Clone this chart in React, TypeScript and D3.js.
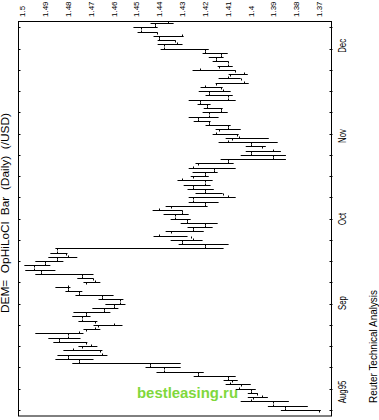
import React from "react";
import * as d3 from "d3";

// OHLC daily bars, USD/DEM, Aug 1995 .. Dec 1995 (earliest first)
const highs = [
  1.3867, 1.3924, 1.4043, 1.4012, 1.4012, 1.4065, 1.4109, 1.4118, 1.4249, 1.4412,
  1.4460, 1.4781, 1.4855, 1.4846, 1.4820, 1.4754, 1.4864, 1.4886, 1.4943, 1.4732,
  1.4688, 1.4754, 1.4781, 1.4776, 1.4693, 1.4636, 1.4666, 1.4767, 1.4811, 1.4855,
  1.4732, 1.4759, 1.4943, 1.4987, 1.4991, 1.4943, 1.4886, 1.4877, 1.4855, 1.4315,
  1.4350, 1.4425, 1.4372, 1.4276, 1.4306, 1.4350, 1.4381, 1.4429, 1.4372, 1.4271,
  1.4271, 1.4241, 1.4276, 1.4293, 1.4320, 1.4262, 1.4254, 1.4271, 1.4241, 1.4131,
  1.4043, 1.4021, 1.4021, 1.4140, 1.4109, 1.4166, 1.4153, 1.4197, 1.4249, 1.4271,
  1.4210, 1.4205, 1.4232, 1.4271, 1.4197, 1.4227, 1.4219, 1.4153, 1.4140, 1.4096,
  1.4254, 1.4144, 1.4166, 1.4183, 1.4210, 1.4394, 1.4407, 1.4407, 1.4425, 1.4495,
  1.4513, 1.4438,
];
const lows = [
  1.3692, 1.3749, 1.3832, 1.3924, 1.3968, 1.3977, 1.3999, 1.4056, 1.4065, 1.4205,
  1.4306, 1.4306, 1.4688, 1.4627, 1.4649, 1.4671, 1.4715, 1.4745, 1.4732, 1.4658,
  1.4561, 1.4671, 1.4701, 1.4614, 1.4579, 1.4548, 1.4557, 1.4600, 1.4737, 1.4789,
  1.4658, 1.4688, 1.4688, 1.4855, 1.4877, 1.4820, 1.4759, 1.4802, 1.4118, 1.4096,
  1.4210, 1.4276, 1.4205, 1.4166, 1.4144, 1.4262, 1.4271, 1.4298, 1.4188, 1.4140,
  1.4065, 1.4122, 1.4161, 1.4175, 1.4166, 1.4183, 1.4144, 1.4065, 1.4074, 1.3845,
  1.3845, 1.3867, 1.3933, 1.3881, 1.3920, 1.4052, 1.4043, 1.4087, 1.4175, 1.4140,
  1.4100, 1.4122, 1.4175, 1.4065, 1.4078, 1.4087, 1.4122, 1.4008, 1.4043, 1.4012,
  1.4065, 1.4078, 1.4096, 1.4118, 1.4100, 1.4183, 1.4298, 1.4328, 1.4293, 1.4407,
  1.4407, 1.4337,
];
const opens = [
  1.3700, 1.3850, 1.3900, 1.3990, 1.3970, 1.4000, 1.4040, 1.4080, 1.4100, 1.4230,
  1.4380, 1.4440, 1.4750, 1.4800, 1.4660, 1.4740, 1.4720, 1.4840, 1.4800, 1.4720,
  1.4670, 1.4680, 1.4740, 1.4720, 1.4640, 1.4600, 1.4570, 1.4650, 1.4750, 1.4800,
  1.4720, 1.4690, 1.4740, 1.4920, 1.4950, 1.4900, 1.4850, 1.4810, 1.4850, 1.4200,
  1.4300, 1.4260, 1.4350, 1.4250, 1.4200, 1.4280, 1.4330, 1.4300, 1.4350, 1.4200,
  1.4250, 1.4120, 1.4200, 1.4250, 1.4200, 1.4250, 1.4200, 1.4160, 1.4230, 1.4100,
  1.3900, 1.4000, 1.3950, 1.4000, 1.4080, 1.4060, 1.4140, 1.4100, 1.4180, 1.4230,
  1.4180, 1.4130, 1.4190, 1.4220, 1.4100, 1.4180, 1.4130, 1.4150, 1.4040, 1.4090,
  1.4070, 1.4140, 1.4100, 1.4150, 1.4130, 1.4200, 1.4380, 1.4330, 1.4400, 1.4410,
  1.4480, 1.4420,
];
const closes = [
  1.3850, 1.3900, 1.4000, 1.3950, 1.4000, 1.4050, 1.4090, 1.4100, 1.4230, 1.4380,
  1.4440, 1.4750, 1.4800, 1.4650, 1.4780, 1.4700, 1.4840, 1.4800, 1.4750, 1.4680,
  1.4600, 1.4740, 1.4720, 1.4640, 1.4600, 1.4570, 1.4650, 1.4750, 1.4800, 1.4800,
  1.4680, 1.4740, 1.4920, 1.4950, 1.4900, 1.4850, 1.4800, 1.4850, 1.4200, 1.4300,
  1.4250, 1.4400, 1.4250, 1.4200, 1.4280, 1.4330, 1.4300, 1.4400, 1.4200, 1.4250,
  1.4100, 1.4200, 1.4250, 1.4200, 1.4300, 1.4200, 1.4160, 1.4250, 1.4100, 1.3900,
  1.4000, 1.3900, 1.4000, 1.4100, 1.4050, 1.4150, 1.4100, 1.4180, 1.4230, 1.4180,
  1.4130, 1.4190, 1.4220, 1.4100, 1.4180, 1.4120, 1.4200, 1.4030, 1.4100, 1.4030,
  1.4220, 1.4100, 1.4150, 1.4130, 1.4200, 1.4380, 1.4320, 1.4400, 1.4300, 1.4480,
  1.4420, 1.4360,
];

const priceTicks = [1.5, 1.49, 1.48, 1.47, 1.46, 1.45, 1.44, 1.43, 1.42, 1.41, 1.4, 1.39, 1.38, 1.37];
const monthLabels = ["Aug95", "Sep", "Oct", "Nov", "Dec"];
const monthPos = [1.6, 23.5, 43.5, 62.8, 84];

const title = "DEM=  OpHiLoCl  Bar  (Daily)  (/USD)";
const footer = "Reuter Technical Analysis";
const watermark = "bestleasing.ru";

const W = 379;
const H = 420;
const FONT = "'Liberation Sans', Arial, Helvetica, sans-serif";

export default function App() {
  const n = highs.length;
  // chart is rotated 90deg counter-clockwise: price runs along x, time runs up
  const x = d3.scaleLinear().domain([1.5, 1.37]).range([22.3, 319]);
  const y = d3.scaleLinear().domain([0, n - 1]).range([410, 23]);
  const frame = { l: 18.5, r: 331.5, t: 21.5, b: 416 };
  const sy = (i: number) => Math.round(y(i)) + 0.5;

  const weekly = d3.range(0, n, 5);

  return (
    <svg
      width={W}
      height={H}
      style={{ position: "absolute", left: 0, top: 0, background: "#fff" }}
      fontFamily={FONT}
    >
      <rect x={0} y={0} width={W} height={H} fill="#fff" />
      {/* frame */}
      <rect
        x={frame.l}
        y={frame.t}
        width={frame.r - frame.l}
        height={frame.b - frame.t}
        fill="none"
        stroke="#000"
        strokeWidth={1}
      />
      {/* small weekly ticks on both time axes */}
      {weekly.map((i) => (
        <g key={"wk" + i}>
          <line x1={frame.l} x2={frame.l + 2} y1={sy(i)} y2={sy(i)} stroke="#000" strokeWidth={1} />
          <line x1={frame.r - 2} x2={frame.r + 1} y1={sy(i)} y2={sy(i)} stroke="#000" strokeWidth={1} />
        </g>
      ))}
      {/* price labels along the top */}
      {priceTicks.map((v) => (
        <text
          key={"p" + v}
          transform={`translate(${x(v) + 3},17) rotate(-90)`}
          fontSize={8}
          fill="#000"
          textAnchor="start"
        >
          {d3.format("")(v)}
        </text>
      ))}
      {/* month labels on the right */}
      {monthLabels.map((m, k) => (
        <text
          key={m}
          transform={`translate(346,${y(monthPos[k])}) rotate(-90) scale(0.78,1)`}
          fontSize={10}
          fill="#000"
          textAnchor="start"
        >
          {m}
        </text>
      ))}
      {/* title on the left */}
      <text
        transform="translate(9,313) rotate(-90)"
        fontSize={11}
        fill="#000"
        textLength={200}
        lengthAdjust="spacingAndGlyphs"
        style={{ whiteSpace: "pre" }}
      >
        {title}
      </text>
      {/* footer */}
      <text
        transform="translate(377,403) rotate(-90)"
        fontSize={11}
        fill="#000"
        textLength={113}
        lengthAdjust="spacingAndGlyphs"
      >
        {footer}
      </text>
      {/* OHLC bars */}
      {highs.map((h, i) => {
        const yy = sy(i);
        const xh = x(h);
        const xl = x(lows[i]);
        const xo = Math.round(x(opens[i])) + 0.5;
        const xc = Math.round(x(closes[i])) + 0.5;
        return (
          <g key={"b" + i} stroke="#000" strokeWidth={1}>
            <line x1={xh} x2={xl} y1={yy} y2={yy} />
            <line x1={xo} x2={xo} y1={yy} y2={yy + 2} />
            <line x1={xc} x2={xc} y1={yy} y2={yy - 2} />
          </g>
        );
      })}
      {/* watermark */}
      <text
        x={137}
        y={398}
        fontSize={15}
        fontWeight="bold"
        fill="#7fd83c"
        textLength={101}
        lengthAdjust="spacingAndGlyphs"
      >
        {watermark}
      </text>
    </svg>
  );
}
